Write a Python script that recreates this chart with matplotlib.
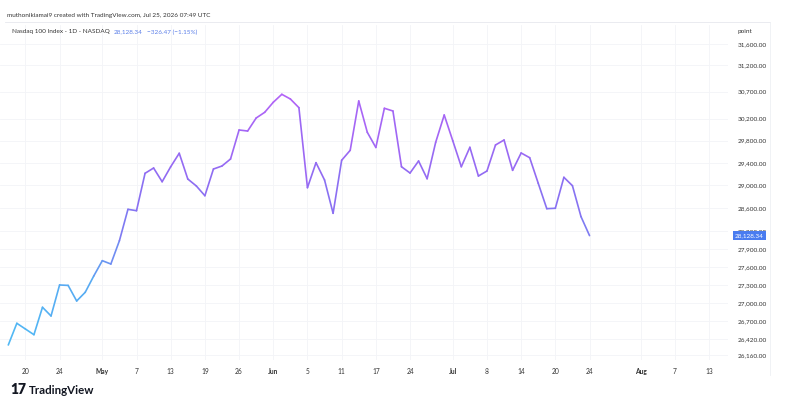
import numpy as np
import pandas as pd
import matplotlib.pyplot as plt
from matplotlib.collections import LineCollection
from matplotlib.colors import LinearSegmentedColormap, Normalize
from matplotlib.ticker import NullLocator

plt.rcParams['font.family'] = ['Lato', 'DejaVu Sans']

# NASDAQ sessions (closed Memorial Day, Juneteenth, Jul 3)
holidays = ["2026-05-25", "2026-06-19", "2026-07-03"]
sessions = pd.bdate_range("2026-04-16", "2026-08-14", freq="C", holidays=holidays)

# daily closes, Apr 16 -> Jul 24 2026
closes = [26320, 26669, 26577, 26485, 26930, 26788, 27297, 27290, 27033, 27176,
          27447, 27703, 27647, 28041, 28581, 28557, 29213, 29307, 29064, 29330,
          29571, 29112, 28989, 28818, 29289, 29343, 29468, 29992, 29973, 30211,
          30316, 30501, 30649, 30562, 30401, 28959, 29402, 29094, 28512, 29445,
          29624, 30525, 29950, 29675, 30390, 30340, 29330, 29218, 29432, 29117,
          29768, 30266, 29797, 29330, 29678, 29165, 29254, 29720, 29810, 29266,
          29576, 29491, 29036, 28592, 28599, 29142, 28994, 28454.81, 28128.34]

tick_dates = ["2026-04-20", "2026-04-24", "2026-05-01", "2026-05-07", "2026-05-13",
              "2026-05-19", "2026-05-26", "2026-06-01", "2026-06-05", "2026-06-11",
              "2026-06-17", "2026-06-24", "2026-07-01", "2026-07-08", "2026-07-14",
              "2026-07-20", "2026-07-24", "2026-08-03", "2026-08-07", "2026-08-13"]
tick_labels = ["20", "24", "May", "7", "13", "19", "26", "Jun", "5", "11", "17",
               "24", "Jul", "8", "14", "20", "24", "Aug", "7", "13"]
month_labels = ["May", "Jun", "Jul", "Aug"]

price_ticks = [31600, 31200, 30700, 30200, 29800, 29400, 29000, 28600, 28200,
               27900, 27600, 27300, 27000, 26700, 26420, 26160]

W, H = 811, 405
fig = plt.figure(figsize=(W / 100, H / 100), dpi=100)
ax = fig.add_axes([0, 45 / H, 728 / W, (360 - 25) / H])

x = np.arange(len(closes))
y = np.array(closes, dtype=float)

# vertical colour gradient like TradingView's gradient line
cmap = LinearSegmentedColormap.from_list(
    "tv", [(0.0, "#4fbdf5"), (0.25, "#58aaf2"), (0.42, "#7a7ff2"),
           (0.65, "#8f6cf2"), (1.0, "#b462f7")])
norm = Normalize(26160, 30700)
pts = np.column_stack([x, y]).reshape(-1, 1, 2)
segs = np.concatenate([pts[:-1], pts[1:]], axis=1)
lc = LineCollection(segs, colors=cmap(norm((y[:-1] + y[1:]) / 2)),
                    linewidths=1.2, capstyle='round', joinstyle='round')
ax.add_collection(lc)

ax.set_yscale('log')
ax.set_xlim(-0.97, 84.2)
ax.set_ylim(26081, 31967)

tick_pos = sessions.get_indexer(pd.to_datetime(tick_dates))
ax.set_xticks(tick_pos)
ax.set_xticklabels(tick_labels)
for lab in ax.get_xticklabels():
    if lab.get_text() in month_labels:
        lab.set_fontweight('bold')
ax.tick_params(axis='x', length=0, pad=6, labelsize=4.8, labelcolor='#333333')

ax.yaxis.tick_right()
ax.yaxis.set_minor_locator(NullLocator())
ax.set_yticks(price_ticks)
ax.set_yticklabels([f"{v:,.2f}" for v in price_ticks])
ax.tick_params(axis='y', length=0, pad=7, labelsize=4.6, labelcolor='#333333')

ax.grid(True, color='#f3f4f7', linewidth=0.6)
ax.set_axisbelow(True)
for s in ax.spines.values():
    s.set_visible(False)

# last price tag
last = closes[-1]
ax.annotate(f"{last:,.2f}", xy=(1.0, last), xycoords=('axes fraction', 'data'),
            xytext=(5, 0), textcoords='offset points', va='center', ha='left',
            fontsize=4.6, color='white',
            bbox=dict(boxstyle='square,pad=0.3', fc='#4a7cf0', ec='none'))

# frame lines
fig.add_artist(plt.Line2D([5 / W, 770 / W], [1 - 22 / H, 1 - 22 / H],
                          color='#e6e8ee', linewidth=0.6))
fig.add_artist(plt.Line2D([770 / W, 770 / W], [1 - 22 / H, 1 - 375 / H],
                          color='#eef0f4', linewidth=0.6))

# header
fig.text(7 / W, 1 - 16 / H,
         "muthonikiamai9 created with TradingView.com, Jul 25, 2026 07:49 UTC",
         fontsize=4.6, color='#333333', va='center')
t1 = fig.text(12 / W, 1 - 32 / H, "Nasdaq 100 Index - 1D - NASDAQ",
              fontsize=4.6, color='#333333', va='center')
t2 = ax.annotate(f"{last:,.2f}", xy=(1, 0.5), xycoords=t1, xytext=(3, 0),
                 textcoords='offset points', va='center', fontsize=4.6,
                 color='#5b7fe8', annotation_clip=False)
ax.annotate("−326.47 (−1.15%)", xy=(1, 0.5), xycoords=t2, xytext=(3, 0),
            textcoords='offset points', va='center', fontsize=4.6,
            color='#5b7fe8', annotation_clip=False)
fig.text(737 / W, 1 - 32 / H, "point", fontsize=4.6, color='#333333', va='center')

# footer logo
fig.text(10 / W, 1 - 390 / H, "17", fontsize=10, fontweight='heavy',
         color='#131722', va='center')
fig.text(29 / W, 1 - 390 / H, "TradingView", fontsize=8.3, fontweight='bold',
         color='#131722', va='center')

fig.savefig("out.png", dpi=100, facecolor='white')
